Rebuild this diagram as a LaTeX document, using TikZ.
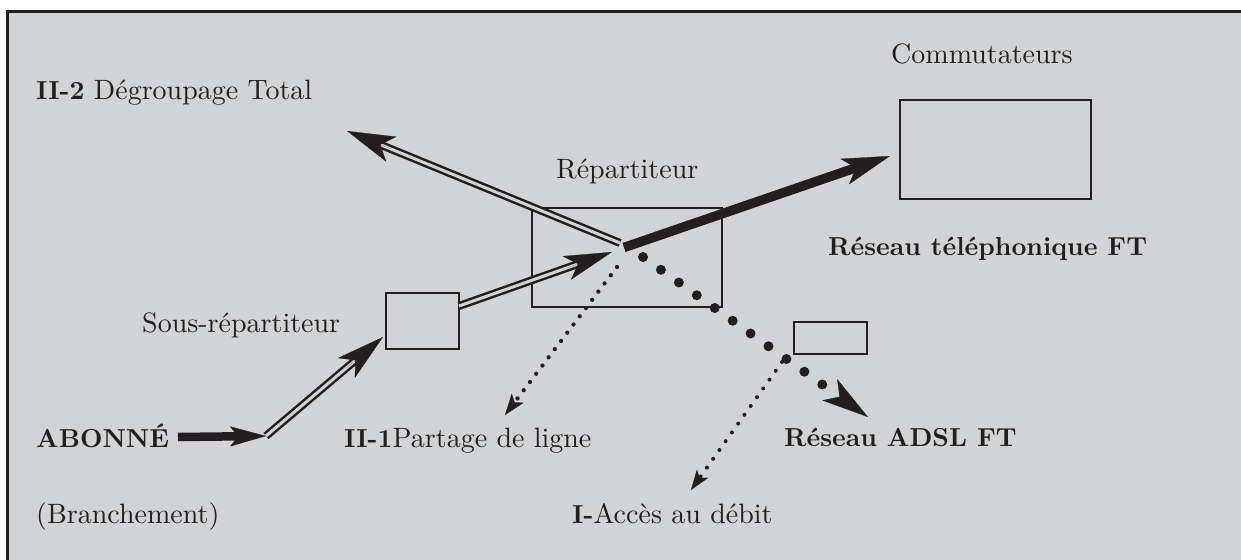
\documentclass[tikz,border=0pt]{standalone}
\usepackage{fontspec}
\setmainfont{lmroman10-regular.otf}[BoldFont=lmroman10-bold.otf]
\usetikzlibrary{arrows.meta,calc}
\definecolor{bgc}{RGB}{209,211,212}
\definecolor{ink}{RGB}{35,31,32}
\newcommand{\myrg}{\fontsize{28}{34}\selectfont}
\newcommand{\mybd}{\fontsize{26}{32}\selectfont\bfseries}
\begin{document}
\begin{tikzpicture}[x=1pt,y=-1pt,
  lbl/.style={anchor=base west, inner sep=0pt, text=ink, font=\myrg},
  box/.style={draw=ink, line width=2pt, inner sep=0pt},
  dbl/.style={draw=ink, line width=2.5pt, double=bgc, double distance=3pt},
  head/.style n args={3}{draw=ink, line width=0.01pt,
    -{Stealth[length=#1pt, width=#2pt, inset=#3pt, line width=0.3pt]}},
  thick arrow/.style n args={4}{draw=ink, line width=#1pt,
    -{Stealth[length=#2pt, width=#3pt, inset=#4pt, line width=0.3pt]}},
  dots/.style n args={5}{draw=ink, line width=#1pt, line cap=round,
    dash pattern=on 0pt off #2pt,
    -{Stealth[length=#3pt, width=#4pt, inset=#5pt, line width=0.3pt]}}
]
\useasboundingbox (0,0) rectangle (1241,559);
\clip (0,0) rectangle (1241,559);
\fill[white] (0,0) rectangle (1241,559);
\fill[bgc] (7.5,11.3) rectangle (1260,580);
\draw[ink, line width=2.7pt, line join=miter] (7.5,580) -- (7.5,11.3) -- (1260,11.3);

% boxes
\node[box, minimum width=190pt, minimum height=99pt] (rep) at (627,257.5) {};
\node[box, minimum width=73pt, minimum height=56pt] (srep) at (422.5,321) {};
\node[box, minimum width=191pt, minimum height=99pt] (comm) at (995.5,149.5) {};
\node[box, minimum width=73pt, minimum height=32pt] (adsl) at (830.5,338) {};

% labels
\node[lbl] (ldeg) at (36,100) {{\mybd II-2} Dégroupage Total};
\node[lbl] (lcomm) at (891,64) {Commutateurs};
\node[lbl] (lrep) at (556,178) {Répartiteur};
\node[lbl, font=\mybd] (ltel) at (828,255) {Réseau téléphonique FT};
\node[lbl] (lsrep) at (142,332) {Sous-répartiteur};
\node[lbl, font=\mybd] (labo) at (36,447) {ABONNÉ};
\node[lbl] (lpart) at (344,447) {{\mybd II-1}Partage de ligne};
\node[lbl] (lbr) at (36,523) {(Branchement)};
\node[lbl] (lacc) at (572,523) {{\mybd I-}Accès au débit};
\node[lbl, font=\mybd] (ladsl) at (784,446) {Réseau ADSL FT};

% coordinates
\coordinate (aStart) at (178,437);
\coordinate (J) at (266,436);
\coordinate (srepIn) at (383,337);
\coordinate (srepOut) at (459,306);
\coordinate (hubIn) at (612,252);
\coordinate (hubL) at (620,243);
\coordinate (hubR) at (624,247.5);
\coordinate (commIn) at (890,156);
\coordinate (degTip) at (347,131);
\coordinate (adslStart) at (643,257);
\coordinate (adslTip) at (868,417);
\coordinate (partS) at (617,267);
\coordinate (partT) at (505,415);
\coordinate (accS) at (782,362);
\coordinate (accT) at (691,490);

% Abonné -> junction
\draw[thick arrow={8.5}{36}{20}{8}] (aStart) -- (J);
% junction -> sous-répartiteur
\draw[dbl] (J) -- ($(srepIn)!34pt!(J)$);
\draw[head={48}{26}{12}] ($(srepIn)!48pt!(J)$) -- (srepIn);
% sous-répartiteur -> répartiteur
\draw[dbl] (srepOut) -- ($(hubIn)!34pt!(srepOut)$);
\draw[head={48}{25}{12}] ($(hubIn)!48pt!(srepOut)$) -- (hubIn);
% répartiteur -> dégroupage total
\draw[dbl] (hubL) -- ($(degTip)!33pt!(hubL)$);
\draw[head={48}{27}{12}] ($(degTip)!48pt!(hubL)$) -- (degTip);
% répartiteur -> commutateurs
\draw[thick arrow={9.5}{48}{27}{12}] (hubR) -- (commIn);
% ADSL big dots
\draw[dots={10}{22}{47}{26}{12}] (adslStart) -- (adslTip);
% partage de ligne
\draw[dots={4.3}{10.3}{21}{15}{5}] (partS) -- (partT);
% accès au débit
\draw[dots={4}{10.8}{20}{14}{5}] (accS) -- (accT);
\end{tikzpicture}
\end{document}
